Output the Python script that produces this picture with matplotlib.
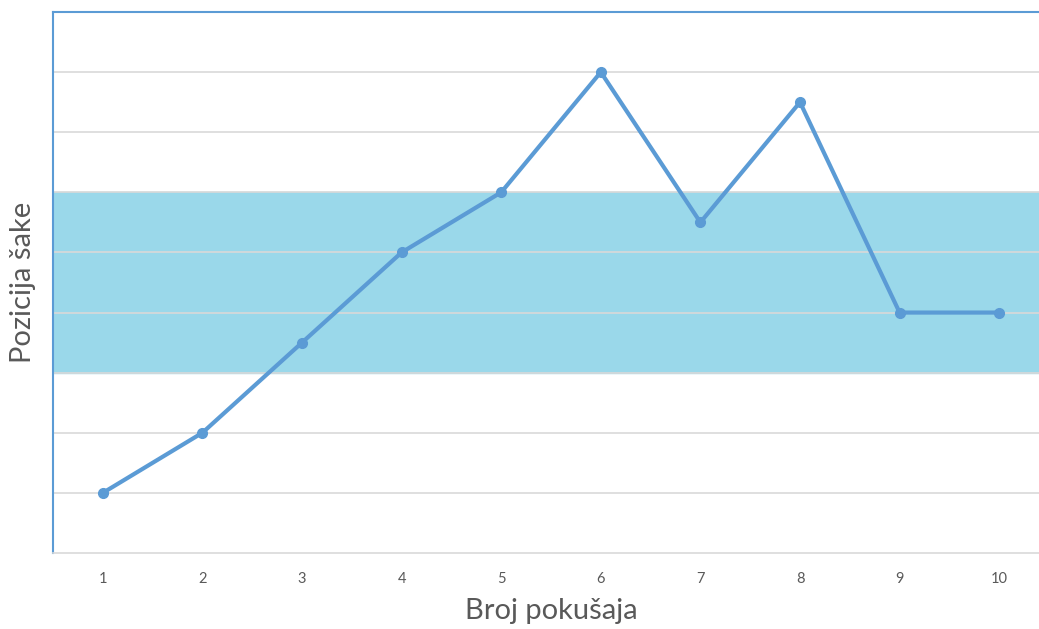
import numpy as np
import matplotlib.pyplot as plt

attempts = [1, 2, 3, 4, 5, 6, 7, 8, 9, 10]
position = [1, 2, 3.5, 5, 6, 8, 5.5, 7.5, 4, 4]
band_low, band_high = 3, 6

plt.rcParams['font.family'] = ['Lato', 'DejaVu Sans']

fig = plt.figure(figsize=(10.39, 6.29), dpi=100)
ax = fig.add_axes([53 / 1039, 76 / 629, 996 / 1039, 541 / 629])

ax.axhspan(band_low, band_high, color='#9AD8EA', zorder=0)
for yv in range(1, 9):
    ax.axhline(yv, color='#D9D9D9', lw=1.2, zorder=1)

ax.plot(attempts, position, color='#5B9BD5', lw=3, marker='o', ms=7, zorder=3)

ax.set_xlim(0.5, 10.5)
ax.set_ylim(0, 9)
ax.set_xticks(attempts)
ax.set_yticks([])
ax.tick_params(axis='x', length=0, pad=14, labelsize=10.5, labelcolor='#595959')

ax.spines['right'].set_visible(False)
ax.spines['left'].set_color('#5B9BD5')
ax.spines['top'].set_color('#5B9BD5')
ax.spines['left'].set_linewidth(1.5)
ax.spines['top'].set_linewidth(1.5)
ax.spines['bottom'].set_color('#D9D9D9')
ax.spines['bottom'].set_linewidth(1.2)

ax.set_xlabel('Broj pokušaja', fontsize=21, color='#595959', labelpad=8)
ax.set_ylabel('Pozicija šake', fontsize=21, color='#595959', labelpad=12)

fig.savefig('out.png', dpi=100)
